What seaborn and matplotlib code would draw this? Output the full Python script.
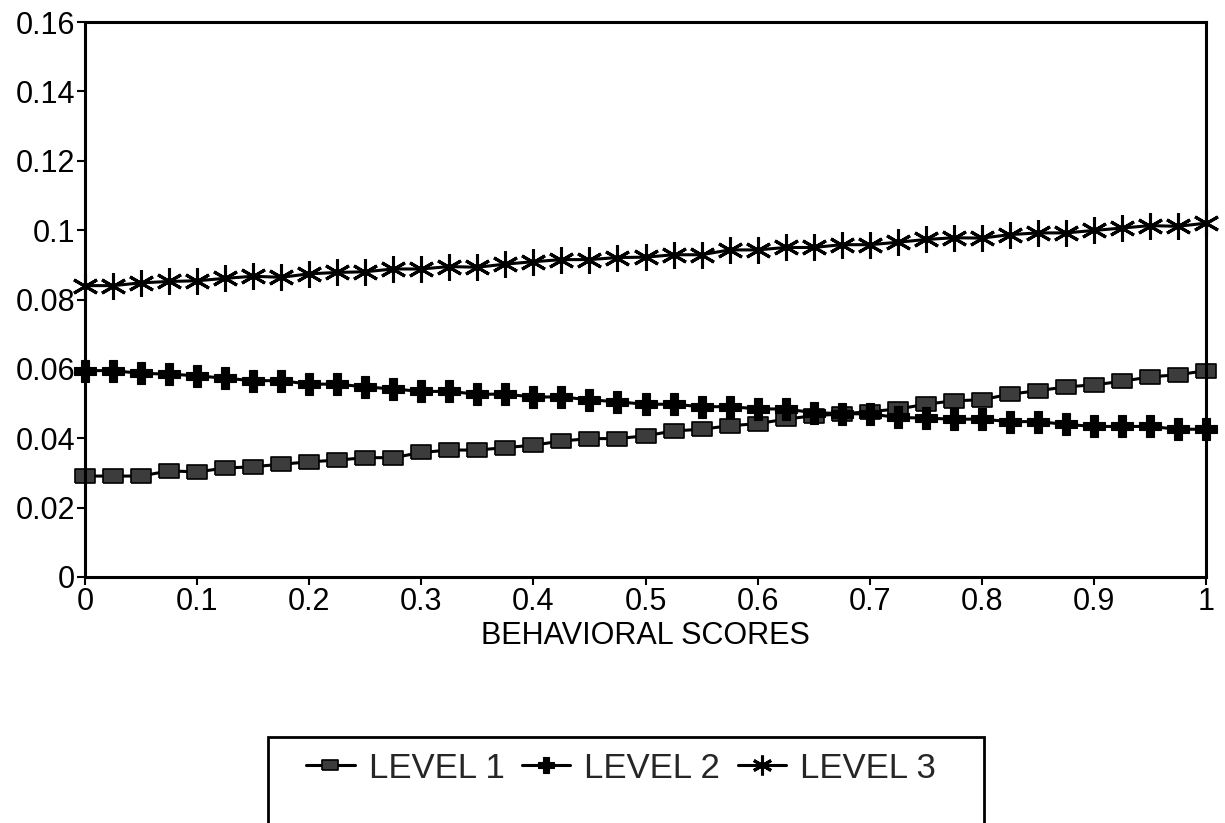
import matplotlib
matplotlib.use("Agg")
import matplotlib.pyplot as plt
from matplotlib.patches import Rectangle
import seaborn as sns
import pandas as pd

# ---- data ----
x_scores = [0.0, 0.025, 0.05, 0.075, 0.1, 0.125, 0.15, 0.175, 0.2, 0.225,
            0.25, 0.275, 0.3, 0.325, 0.35, 0.375, 0.4, 0.425, 0.45, 0.475,
            0.5, 0.525, 0.55, 0.575, 0.6, 0.625, 0.65, 0.675, 0.7, 0.725,
            0.75, 0.775, 0.8, 0.825, 0.85, 0.875, 0.9, 0.925, 0.95, 0.975, 1.0]

level1 = [0.0291, 0.0291, 0.0291, 0.0306, 0.0303, 0.0314, 0.0318, 0.0325, 0.0332, 0.0337,
          0.0344, 0.0344, 0.0359, 0.0366, 0.0366, 0.0373, 0.0380, 0.0392, 0.0399, 0.0399,
          0.0407, 0.0421, 0.0426, 0.0436, 0.0442, 0.0455, 0.0465, 0.0470, 0.0477, 0.0484,
          0.0498, 0.0508, 0.0511, 0.0527, 0.0537, 0.0548, 0.0554, 0.0564, 0.0577, 0.0583, 0.0595]

level2 = [0.0595, 0.0595, 0.0587, 0.0585, 0.0580, 0.0573, 0.0566, 0.0566, 0.0556, 0.0556,
          0.0548, 0.0542, 0.0535, 0.0535, 0.0527, 0.0527, 0.0519, 0.0519, 0.0511, 0.0505,
          0.0498, 0.0498, 0.0491, 0.0491, 0.0485, 0.0484, 0.0474, 0.0471, 0.0470, 0.0460,
          0.0458, 0.0455, 0.0455, 0.0448, 0.0448, 0.0440, 0.0434, 0.0434, 0.0434, 0.0426, 0.0426]

level3 = [0.0840, 0.0840, 0.0848, 0.0852, 0.0854, 0.0861, 0.0867, 0.0864, 0.0874, 0.0878,
          0.0880, 0.0888, 0.0888, 0.0895, 0.0893, 0.0902, 0.0909, 0.0915, 0.0915, 0.0921,
          0.0922, 0.0929, 0.0929, 0.0943, 0.0943, 0.0950, 0.0950, 0.0958, 0.0958, 0.0965,
          0.0973, 0.0978, 0.0977, 0.0987, 0.0992, 0.0992, 0.0999, 0.1006, 0.1013, 0.1011, 0.1020]

series_names = ["LEVEL 1", "LEVEL 2", "LEVEL 3"]
x_ticks = [0, 0.1, 0.2, 0.3, 0.4, 0.5, 0.6, 0.7, 0.8, 0.9, 1.0]
x_tick_labels = ["0", "0.1", "0.2", "0.3", "0.4", "0.5", "0.6", "0.7", "0.8", "0.9", "1"]
y_ticks = [0, 0.02, 0.04, 0.06, 0.08, 0.10, 0.12, 0.14, 0.16]
y_tick_labels = ["0", "0.02", "0.04", "0.06", "0.08", "0.1", "0.12", "0.14", "0.16"]
x_label = "BEHAVIORAL SCORES"

# ---- styling ----
sns.set_theme(style="white")
plt.rcParams["font.family"] = ["Liberation Sans", "DejaVu Sans"]

fig = plt.figure(figsize=(12.25, 8.23), dpi=100)
ax = fig.add_axes([85 / 1225, (823 - 577) / 823, (1206 - 85) / 1225, (577 - 22) / 823])

rect_marker = [(-1.0, -0.68), (1.0, -0.68), (1.0, 0.68), (-1.0, 0.68), (-1.0, -0.68)]
styles = {
    "LEVEL 1": dict(marker=rect_marker, markersize=15, markerfacecolor="#3c3c3c",
                    markeredgecolor="black", markeredgewidth=1.2),
    "LEVEL 2": dict(marker="P", markersize=16, markerfacecolor="black",
                    markeredgecolor="black", markeredgewidth=0.8),
    "LEVEL 3": dict(marker=(6, 2, 0), markersize=19, markerfacecolor="black",
                    markeredgecolor="black", markeredgewidth=2.2),
}

for name, vals in zip(series_names, [level1, level2, level3]):
    df = pd.DataFrame({"x": x_scores, "y": vals})
    sns.lineplot(data=df, x="x", y="y", ax=ax, color="black", linewidth=2.2,
                 label=name, clip_on=False, legend=False, **styles[name])

ax.set_xlim(0, 1)
ax.set_ylim(0, 0.16)
ax.set_xticks(x_ticks)
ax.set_xticklabels(x_tick_labels)
ax.set_yticks(y_ticks)
ax.set_yticklabels(y_tick_labels)
ax.tick_params(axis="both", which="both", direction="out", length=6, width=1.5,
               color="black", labelsize=22, labelcolor="black", pad=1,
               bottom=True, left=True)
ax.set_xlabel(x_label, fontsize=22, color="black", labelpad=3)
ax.set_ylabel("")
for sp in ax.spines.values():
    sp.set_visible(True)
    sp.set_color("black")
    sp.set_linewidth(2.2)

# legend (box runs off the bottom of the page as in the reference)
handles = ax.get_lines()[:3]
leg = fig.legend(handles, series_names, loc="center",
                 ncol=3, bbox_to_anchor=(621 / 1225, (823 - 768) / 823),
                 frameon=False, handlelength=1.4,
                 columnspacing=0.5, handletextpad=0.4, markerscale=0.75,
                 prop={"family": ["Liberation Sans", "DejaVu Sans"], "size": 25})
fig.patches.append(Rectangle((268 / 1225, -0.05), (984 - 268) / 1225,
                             (823 - 737) / 823 + 0.05, transform=fig.transFigure,
                             fill=False, edgecolor="black", linewidth=2.0))

fig.savefig("out.png", dpi=100, facecolor="white")
